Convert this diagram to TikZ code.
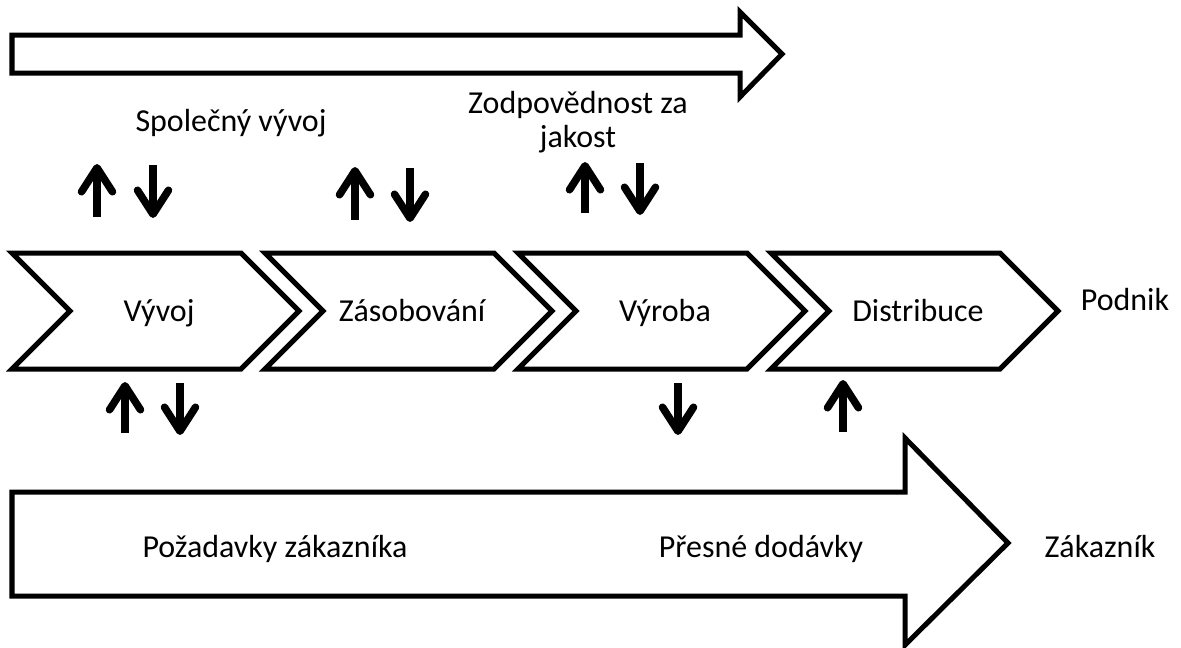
\documentclass[tikz,border=0pt]{standalone}
\usepackage{fontspec}
\setmainfont{Carlito}
\usetikzlibrary{arrows.meta}
\begin{document}
\begin{tikzpicture}[x=0.02cm,y=-0.02cm,
  outline/.style={draw=black,line width=2.85pt,line join=miter,fill=white},
  lbl/.style={font=\fontsize{18.2}{22}\selectfont,inner sep=0pt},
  flowarrow/.style={line width=4.3pt,-{Straight Barb[round,length=0.48cm,width=0.62cm]}}]
\useasboundingbox (0,0) rectangle (1181,647);

% long arrow at the top
\draw[outline] (12,35) -- (740,35) -- (740,12) -- (782,54) -- (740,97) -- (740,73) -- (12,73) -- cycle;

% process chevrons with their labels
\foreach \i/\name/\txt in {0/vyvoj/Vývoj,1/zasob/Zásobování,2/vyroba/Výroba,3/distr/Distribuce}{
  \pgfmathsetmacro{\xo}{12+253*\i}
  \draw[outline] (\xo,253) -- (\xo+229,253) -- (\xo+287,311) -- (\xo+229,369)
                 -- (\xo,369) -- (\xo+58,311) -- cycle;
  \node[lbl,anchor=base] (\name) at (\xo+147,321) {\txt};
}

% wide customer arrow at the bottom
\draw[outline] (12,492) -- (905,492) -- (905,438) -- (1008,543) -- (905,645) -- (905,596) -- (12,596) -- cycle;

% exchange arrows
\draw[flowarrow] (97,217) -- (97,164);
\draw[flowarrow] (153,165) -- (153,218);
\draw[flowarrow] (355,220) -- (355,167);
\draw[flowarrow] (410,168) -- (410,222);
\draw[flowarrow] (585,213) -- (585,162);
\draw[flowarrow] (640,163) -- (640,215);
\draw[flowarrow] (125,433) -- (125,382);
\draw[flowarrow] (180,383) -- (180,435);
\draw[flowarrow] (678,383) -- (678,435);
\draw[flowarrow] (843,432) -- (843,380);

% free labels
\node[lbl,anchor=base] (joint) at (231,131) {Společný vývoj};
\node[lbl,anchor=base] (quality1) at (578,113) {Zodpovědnost za};
\node[lbl,anchor=base] (quality2) at (578,147) {jakost};
\node[lbl,anchor=base] (podnik) at (1125,310) {Podnik};
\node[lbl,anchor=base] (pozad) at (275,557) {Požadavky zákazníka};
\node[lbl,anchor=base] (presne) at (761,557) {Přesné dodávky};
\node[lbl,anchor=base] (zakaznik) at (1100,557) {Zákazník};
\end{tikzpicture}
\end{document}
